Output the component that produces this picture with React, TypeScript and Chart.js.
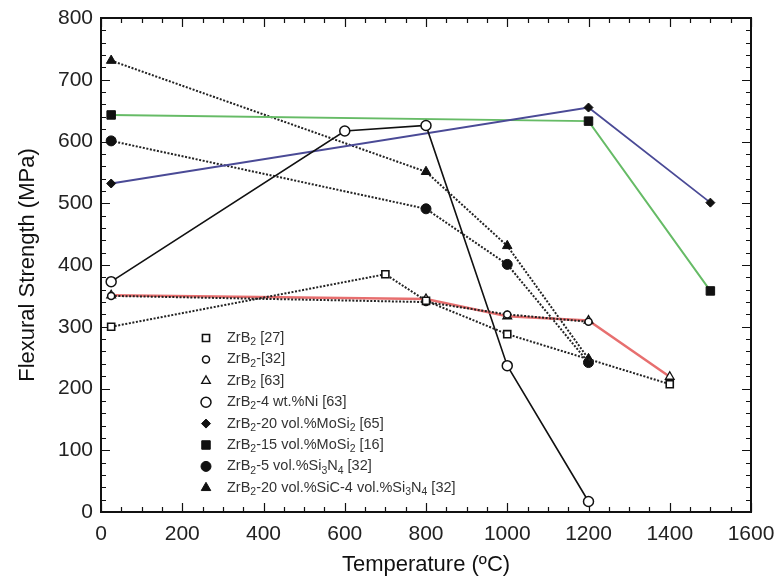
import React, { useEffect, useRef } from 'react';
import { Chart, registerables } from 'chart.js';
import { drawPoint } from 'chart.js/helpers';

Chart.register(...registerables);

const FONT = '"Liberation Sans", Arial, sans-serif';

// Temperature (°C) and flexural strength (MPa) per series
const T_ZrB2_27 = [25, 700, 800, 1000, 1400];
const S_ZrB2_27 = [300, 385, 342, 288, 207];
const T_ZrB2_32 = [25, 800, 1000, 1200];
const S_ZrB2_32 = [350, 340, 320, 308];
const T_ZrB2_63 = [25, 800, 1000, 1200, 1400];
const S_ZrB2_63 = [351, 345, 317, 310, 219];
const T_Ni = [25, 600, 800, 1000, 1200];
const S_Ni = [373, 617, 626, 237, 17];
const T_MoSi2_65 = [25, 1200, 1500];
const S_MoSi2_65 = [532, 655, 501];
const T_MoSi2_16 = [25, 1200, 1500];
const S_MoSi2_16 = [643, 633, 358];
const T_Si3N4 = [25, 800, 1000, 1200];
const S_Si3N4 = [601, 491, 401, 242];
const T_SiC = [25, 800, 1000, 1200];
const S_SiC = [731, 551, 431, 248];

const LABELS = [
  'ZrB₂ [27]',
  'ZrB₂-[32]',
  'ZrB₂ [63]',
  'ZrB₂-4 wt.%Ni [63]',
  'ZrB₂-20 vol.%MoSi₂ [65]',
  'ZrB₂-15 vol.%MoSi₂ [16]',
  'ZrB₂-5 vol.%Si₃N₄ [32]',
  'ZrB₂-20 vol.%SiC-4 vol.%Si₃N₄ [32]',
];

const X_TICKS_MAJOR = 200;
const X_TICKS_MINOR = 50;
const Y_TICKS_MAJOR = 100;
const Y_TICKS_MINOR = 20;

const pts = (xs: number[], ys: number[]) => xs.map((x, i) => ({ x, y: ys[i] }));

const SUBS: Record<string, string> = { '₀': '0', '₁': '1', '₂': '2', '₃': '3', '₄': '4', '₅': '5' };

function drawRich(ctx: CanvasRenderingContext2D, text: string, x: number, y: number, size: number) {
  let cx = x;
  let run = '';
  let runSub = false;
  const flush = () => {
    if (!run) return;
    ctx.font = `${runSub ? size * 0.72 : size}px ${FONT}`;
    ctx.fillText(run, cx, runSub ? y + size * 0.3 : y);
    cx += ctx.measureText(run).width;
    run = '';
  };
  for (const ch of text) {
    const isSub = ch in SUBS;
    if (isSub !== runSub) {
      flush();
      runSub = isSub;
    }
    run += isSub ? SUBS[ch] : ch;
  }
  flush();
}

const framePlugin = {
  id: 'frameTicks',
  beforeDatasetsDraw(chart: any) {
    const { ctx, chartArea, scales } = chart;
    const { left, right, top, bottom } = chartArea;
    const x = scales.x;
    const y = scales.y;
    ctx.save();
    ctx.strokeStyle = '#111';
    ctx.lineWidth = 1.2;
    ctx.beginPath();
    for (let v = x.min; v <= x.max; v += X_TICKS_MINOR) {
      const px = Math.round(x.getPixelForValue(v)) + 0.5;
      const len = v % X_TICKS_MAJOR === 0 ? 9 : 5;
      ctx.moveTo(px, bottom);
      ctx.lineTo(px, bottom - len);
      ctx.moveTo(px, top);
      ctx.lineTo(px, top + len);
    }
    for (let v = y.min; v <= y.max; v += Y_TICKS_MINOR) {
      const py = Math.round(y.getPixelForValue(v)) + 0.5;
      const len = v % Y_TICKS_MAJOR === 0 ? 9 : 5;
      ctx.moveTo(left, py);
      ctx.lineTo(left + len, py);
      ctx.moveTo(right, py);
      ctx.lineTo(right - len, py);
    }
    ctx.stroke();
    ctx.lineWidth = 2;
    ctx.strokeRect(left, top, right - left, bottom - top);
    ctx.restore();
  },
  afterDraw(chart: any) {
    const { ctx, chartArea } = chart;
    const mx = chartArea.left + 105;
    const tx = chartArea.left + 126;
    const y0 = chartArea.top + 320;
    const dy = 21.4;
    ctx.save();
    chart.data.datasets.forEach((ds: any, i: number) => {
      const yy = y0 + i * dy;
      ctx.fillStyle = ds.pointBackgroundColor;
      ctx.strokeStyle = ds.pointBorderColor;
      ctx.lineWidth = ds.pointBorderWidth;
      drawPoint(ctx, { pointStyle: ds.pointStyle, radius: ds.pointRadius, rotation: 0, borderWidth: ds.pointBorderWidth }, mx, yy);
      ctx.fillStyle = '#333';
      ctx.textBaseline = 'middle';
      ctx.textAlign = 'left';
      drawRich(ctx, ds.label, tx, yy, 14.5);
    });
    ctx.restore();
  },
};

export default function App() {
  const ref = useRef<HTMLCanvasElement>(null);
  useEffect(() => {
    const dotted = [2, 1.6];
    const chart = new Chart(ref.current!, {
      type: 'line',
      data: {
        datasets: [
          { label: LABELS[0], data: pts(T_ZrB2_27, S_ZrB2_27), borderColor: '#222', borderWidth: 2, borderDash: dotted, pointStyle: 'rect', pointRadius: 5, pointBackgroundColor: '#fff', pointBorderColor: '#111', pointBorderWidth: 1.6 },
          { label: LABELS[1], data: pts(T_ZrB2_32, S_ZrB2_32), borderColor: '#222', borderWidth: 2, borderDash: dotted, pointStyle: 'circle', pointRadius: 3.5, pointBackgroundColor: '#fff', pointBorderColor: '#111', pointBorderWidth: 1.5 },
          { label: LABELS[2], data: pts(T_ZrB2_63, S_ZrB2_63), borderColor: 'rgba(228,95,95,0.9)', borderWidth: 2.5, pointStyle: 'triangle', pointRadius: 5, pointBackgroundColor: '#fff', pointBorderColor: '#111', pointBorderWidth: 1.3 },
          { label: LABELS[3], data: pts(T_Ni, S_Ni), borderColor: '#111', borderWidth: 1.6, pointStyle: 'circle', pointRadius: 5, pointBackgroundColor: '#fff', pointBorderColor: '#111', pointBorderWidth: 1.5 },
          { label: LABELS[4], data: pts(T_MoSi2_65, S_MoSi2_65), borderColor: '#4a4a96', borderWidth: 1.8, pointStyle: 'rectRot', pointRadius: 4.5, pointBackgroundColor: '#111', pointBorderColor: '#111', pointBorderWidth: 1 },
          { label: LABELS[5], data: pts(T_MoSi2_16, S_MoSi2_16), borderColor: '#66bb66', borderWidth: 2, pointStyle: 'rect', pointRadius: 6, pointBackgroundColor: '#111', pointBorderColor: '#111', pointBorderWidth: 1 },
          { label: LABELS[6], data: pts(T_Si3N4, S_Si3N4), borderColor: '#222', borderWidth: 2, borderDash: dotted, pointStyle: 'circle', pointRadius: 5, pointBackgroundColor: '#111', pointBorderColor: '#111', pointBorderWidth: 1 },
          { label: LABELS[7], data: pts(T_SiC, S_SiC), borderColor: '#222', borderWidth: 2, borderDash: dotted, pointStyle: 'triangle', pointRadius: 5.5, pointBackgroundColor: '#111', pointBorderColor: '#111', pointBorderWidth: 1 },
        ],
      },
      options: {
        responsive: false,
        devicePixelRatio: 1,
        animation: false,
        layout: { padding: { top: 18, right: 25, left: 0, bottom: 0 } },
        plugins: { legend: { display: false }, tooltip: { enabled: false } },
        elements: { line: { tension: 0 } },
        scales: {
          x: {
            type: 'linear',
            min: 0,
            max: 1600,
            ticks: { stepSize: 200, font: { family: FONT, size: 21 }, color: '#222', padding: 10, maxRotation: 0, autoSkip: false, callback: (v: any) => String(v) },
            grid: { display: false, drawTicks: false },
            border: { display: false },
            title: { display: true, text: 'Temperature (ºC)', font: { family: FONT, size: 22 }, color: '#111', padding: { top: 0, bottom: 4 } },
            afterFit: (s: any) => { s.height = 70; s.paddingRight = 0; s.paddingLeft = 0; },
          },
          y: {
            type: 'linear',
            min: 0,
            max: 800,
            ticks: { stepSize: 100, font: { family: FONT, size: 21 }, color: '#222', padding: 8, callback: (v: any) => String(v) },
            grid: { display: false, drawTicks: false },
            border: { display: false },
            title: { display: true, text: 'Flexural Strength (MPa)', font: { family: FONT, size: 22 }, color: '#111', padding: { top: 15, bottom: 0 } },
            afterFit: (s: any) => { s.width = 101; s.paddingTop = 0; s.paddingBottom = 0; },
          },
        },
      },
      plugins: [framePlugin],
    } as any);
    return () => chart.destroy();
  }, []);
  return (
    <div style={{ position: 'fixed', left: 0, top: 0, width: 776, height: 582, background: '#fff' }}>
      <canvas ref={ref} width={776} height={582} style={{ display: 'block' }} />
    </div>
  );
}
